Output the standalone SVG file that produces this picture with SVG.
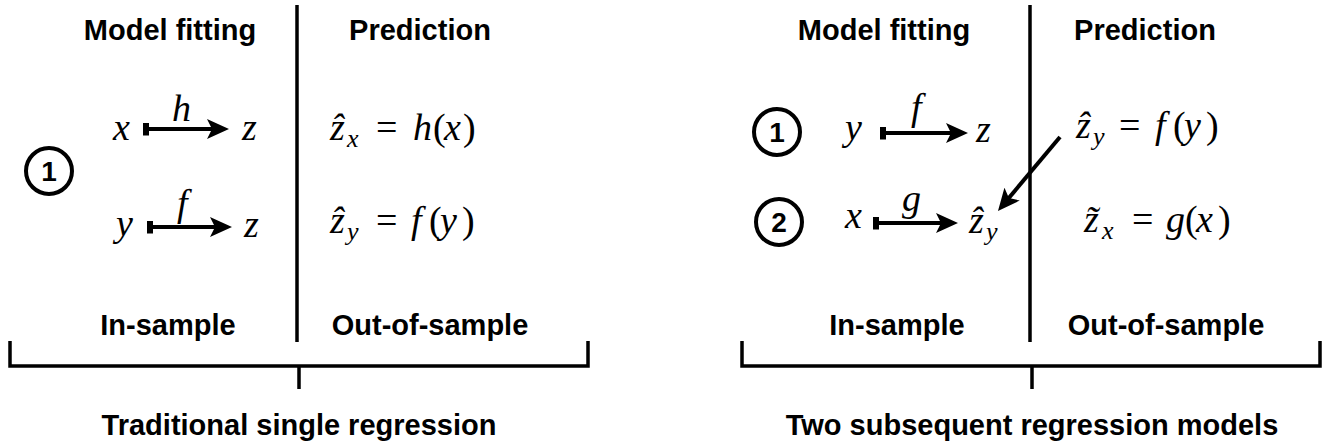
<svg xmlns="http://www.w3.org/2000/svg" width="1331" height="445" viewBox="0 0 1331 445">
<style>
.hd{font-family:"Liberation Sans",Arial,sans-serif;font-weight:bold;font-size:29px;fill:#000;text-anchor:middle}
.num{font-family:"Liberation Sans",Arial,sans-serif;font-weight:bold;font-size:28px;fill:#000;text-anchor:middle}
.m{font-family:"Liberation Serif","DejaVu Serif",serif;font-style:italic;font-size:38px;fill:#000}
.mu{font-style:normal}
.sub{font-size:26px}
.ln{stroke:#000;stroke-width:3.5;fill:none}
.ar{stroke:#000;stroke-width:4;fill:none}
.circ{stroke:#000;stroke-width:4;fill:#fff}
</style>
<defs>
<marker id="head" viewBox="0 0 22 20" refX="12" refY="10" markerWidth="22" markerHeight="20" markerUnits="userSpaceOnUse" orient="auto">
<path d="M0,0 L22,10 L0,20 L5,10 Z" fill="#000"/>
</marker>
<marker id="tick" viewBox="0 0 6 13" refX="3" refY="6.5" markerWidth="6" markerHeight="13" markerUnits="userSpaceOnUse" orient="auto">
<rect x="0" y="0" width="6" height="13" fill="#000"/>
</marker>
</defs>
<rect width="1331" height="445" fill="#fff"/>

<g id="left-panel">
<text class="hd" x="170" y="40">Model fitting</text>
<text class="hd" x="420" y="40">Prediction</text>
<text class="hd" x="168" y="335">In-sample</text>
<text class="hd" x="430" y="335">Out-of-sample</text>
<text class="hd" x="299" y="435">Traditional single regression</text>
</g>

<g id="left-step1">
<circle class="circ" cx="49" cy="171" r="23"/>
<text class="num" x="49" y="181">1</text>
</g>

<g id="left-x"><text class="m" x="113" y="140">x</text></g>
<g id="left-z1"><text class="m" x="242" y="140">z</text></g>
<g id="left-y"><text class="m" x="116" y="236">y</text></g>
<g id="left-z2"><text class="m" x="244" y="237">z</text></g>
<g id="left-eq1"><text class="m" y="140"><tspan x="330">ẑ</tspan><tspan class="sub" x="347" y="147">x</tspan><tspan class="mu" x="376" y="140">=</tspan><tspan x="413">h</tspan><tspan class="mu" x="433">(</tspan><tspan x="444">x</tspan><tspan class="mu" x="463">)</tspan></text></g>
<g id="left-eq2"><text class="m" y="233"><tspan x="330">ẑ</tspan><tspan class="sub" x="347" y="240">y</tspan><tspan class="mu" x="376" y="233">=</tspan><tspan x="411">f</tspan><tspan class="mu" x="429">(</tspan><tspan x="440">y</tspan><tspan class="mu" x="462">)</tspan></text></g>

<g id="right-panel">
<text class="hd" x="884" y="40">Model fitting</text>
<text class="hd" x="1145" y="40">Prediction</text>
<text class="hd" x="897" y="335">In-sample</text>
<text class="hd" x="1166" y="335">Out-of-sample</text>
<text class="hd" x="1032" y="435">Two subsequent regression models</text>
</g>

<g id="right-step1">
<circle class="circ" cx="777" cy="132" r="23"/>
<text class="num" x="777" y="142">1</text>
</g>
<g id="right-step2">
<circle class="circ" cx="779" cy="222" r="23"/>
<text class="num" x="779" y="232">2</text>
</g>
<g id="right-y"><text class="m" x="845" y="140">y</text></g>
<g id="right-z"><text class="m" x="976" y="142">z</text></g>
<g id="right-x"><text class="m" x="845" y="228">x</text></g>
<g id="right-zhat"><text class="m" y="233"><tspan x="969">ẑ</tspan><tspan class="sub" x="986" y="240">y</tspan></text></g>
<g id="right-eq1"><text class="m" y="138"><tspan x="1076">ẑ</tspan><tspan class="sub" x="1093" y="145">y</tspan><tspan class="mu" x="1119" y="138">=</tspan><tspan x="1155">f</tspan><tspan class="mu" x="1173">(</tspan><tspan x="1184">y</tspan><tspan class="mu" x="1206">)</tspan></text></g>
<g id="right-eq2"><text class="m" y="232"><tspan x="1084">z̃</tspan><tspan class="sub" x="1102" y="239">x</tspan><tspan class="mu" x="1132" y="232">=</tspan><tspan x="1166">g</tspan><tspan class="mu" x="1185">(</tspan><tspan x="1196">x</tspan><tspan class="mu" x="1218">)</tspan></text></g>

<g id="connectors">
<line class="ln" x1="297" y1="5" x2="297" y2="342"/>
<path class="ln" d="M10,341 V366 H588 V341 M299,366 V389"/>
<line class="ln" x1="1030" y1="5" x2="1030" y2="342"/>
<path class="ln" d="M742,341 V366 H1320 V341 M1032,366 V389"/>

<line class="ar" x1="146" y1="129" x2="219" y2="129" marker-start="url(#tick)" marker-end="url(#head)"/>
<line class="ar" x1="150" y1="227" x2="222" y2="227" marker-start="url(#tick)" marker-end="url(#head)"/>
<line class="ar" x1="883" y1="133" x2="958" y2="133" marker-start="url(#tick)" marker-end="url(#head)"/>
<line class="ar" x1="876" y1="223" x2="948" y2="223" marker-start="url(#tick)" marker-end="url(#head)"/>
<line class="ar" x1="1060" y1="137" x2="1004.4" y2="203.3" marker-end="url(#head)"/>

<text class="m" x="172" y="121">h</text>
<text class="m" x="177" y="216">f</text>
<text class="m" x="911" y="120">f</text>
<text class="m" x="902" y="211">g</text>
</g>
</svg>
